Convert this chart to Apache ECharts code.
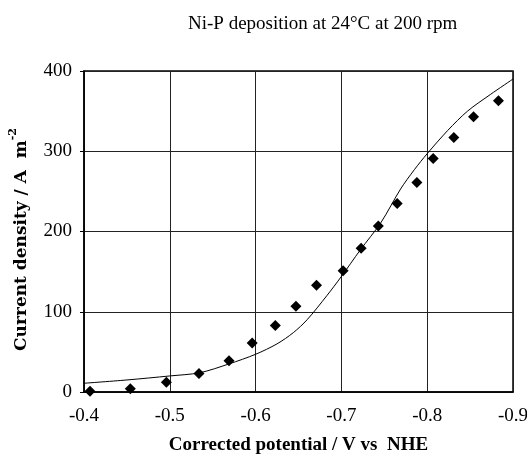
<!DOCTYPE html>
<html>
<head>
<meta charset="utf-8">
<script src="https://cdn.jsdelivr.net/npm/echarts@6/dist/echarts.min.js"></script>
<style>html,body{margin:0;padding:0;background:#fff}#c{width:527px;height:454px}</style>
</head>
<body>
<div id="c"></div>
<script>
var titleText = 'Ni-P deposition at 24°C at 200 rpm';
var xTicks = [-0.4, -0.5, -0.6, -0.7, -0.8, -0.9];
var yTicks = [0, 100, 200, 300, 400];
var pointsV = [-0.407,-0.454,-0.496,-0.534,-0.569,-0.596,-0.623,-0.647,-0.671,-0.702,-0.723,-0.743,-0.765,-0.788,-0.807,-0.831,-0.854,-0.883];
var pointsI = [1,4,12,23,39,61,83,107,133,151,179,207,235,261,291,317,343,363];
var curveV = [-0.395,-0.45,-0.5,-0.535,-0.569,-0.6,-0.625,-0.644,-0.66,-0.683,-0.7,-0.722,-0.746,-0.769,-0.785,-0.8,-0.824,-0.847,-0.874,-0.9];
var curveI = [10.5,15,20,24,35,47,60,74,90,120,144,177,211,253,277,297,326,350,371,390];

var serif = '"Liberation Serif", "DejaVu Serif", serif';
var wideSerif = '"DejaVu Serif", "Liberation Serif", serif';
var chart = echarts.init(document.getElementById('c'));
chart.setOption({
  animation: false,
  backgroundColor: '#fff',
  title: {
    text: titleText,
    left: 183, top: 10,
    textStyle: { fontFamily: serif, fontSize: 19, fontWeight: 'normal', color: '#000' }
  },
  grid: { left: 84, right: 14, top: 71, bottom: 62, outerBoundsMode: 'none', containLabel: false, show: true, borderColor: '#000', borderWidth: 1.5, backgroundColor: 'transparent' },
  xAxis: {
    type: 'value', inverse: true,
    min: xTicks[xTicks.length - 1], max: xTicks[0], interval: 0.1,
    name: 'Corrected potential / V vs  NHE',
    nameLocation: 'middle', nameGap: 44,
    nameTextStyle: { fontFamily: serif, fontSize: 19, fontWeight: 'bold', color: '#000' },
    axisLine: { show: true, lineStyle: { color: '#000', width: 1.5 } },
    axisTick: { show: false },
    axisLabel: { margin: 15, fontFamily: serif, fontSize: 19, color: '#000', formatter: function (v) { return v.toFixed(1); } },
    splitLine: { show: true, lineStyle: { color: '#222', width: 1 } }
  },
  yAxis: {
    type: 'value', min: yTicks[0], max: yTicks[yTicks.length - 1], interval: 100,
    name: '{a|Current density / A  m}{s|-2}',
    nameLocation: 'middle', nameGap: 54, nameRotate: 90,
    nameTextStyle: {
      padding: [0, 16, 0, 0],
      rich: {
        a: { fontFamily: wideSerif, fontSize: 17, fontWeight: 'bold', color: '#000', lineHeight: 22, verticalAlign: 'bottom' },
        s: { fontFamily: wideSerif, fontSize: 11, fontWeight: 'bold', color: '#000', lineHeight: 22, verticalAlign: 'top' }
      }
    },
    axisLine: { show: true, lineStyle: { color: '#000', width: 1.5 } },
    axisTick: { show: true, length: 4, lineStyle: { color: '#000' } },
    axisLabel: { margin: 12, fontFamily: serif, fontSize: 19, color: '#000' },
    splitLine: { show: true, lineStyle: { color: '#222', width: 1 } }
  },
  series: [
    {
      type: 'line', clip: false, smooth: 0.3, showSymbol: false,
      lineStyle: { color: '#000', width: 1 },
      data: curveV.map(function (v, i) { return [v, curveI[i]]; }),
      z: 2
    },
    {
      type: 'scatter', symbol: 'diamond', symbolSize: 11, clip: false,
      itemStyle: { color: '#000', opacity: 1 },
      data: pointsV.map(function (v, i) { return [v, pointsI[i]]; }),
      z: 3
    }
  ]
});
</script>
</body>
</html>
